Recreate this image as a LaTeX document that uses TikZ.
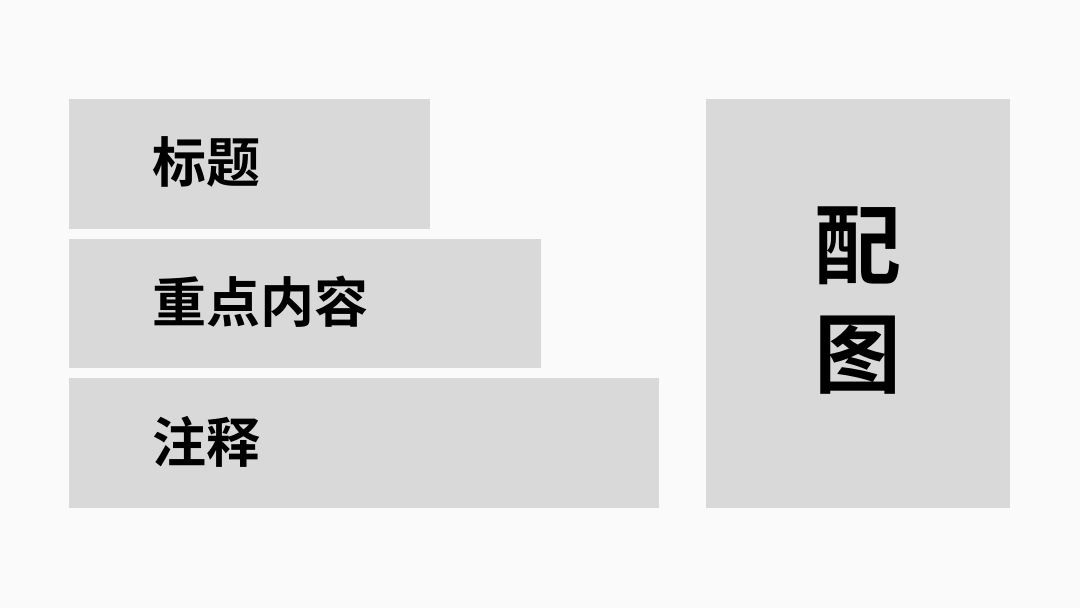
\documentclass[tikz,border=0pt]{standalone}
\usepackage{fontspec}
\newfontfamily\cjk{Noto Sans CJK SC}[BoldFont={Noto Sans CJK SC Bold}]
\definecolor{bg}{HTML}{FAFAFA}
\definecolor{boxgray}{HTML}{D9D9D9}
\begin{document}
\begin{tikzpicture}[x=1pt,y=-1pt,
  graybox/.style={fill=boxgray,draw=none},
  label/.style={anchor=west,inner sep=0pt,font=\cjk\bfseries\fontsize{54}{60}\selectfont,text=black},
  biglabel/.style={inner sep=0pt,font=\cjk\bfseries\fontsize{87}{109}\selectfont,text=black,align=center}]
\fill[bg] (0,0) rectangle (1080,608);
\useasboundingbox (0,0) rectangle (1080,608);
\fill[graybox] (69,99) rectangle (430,229);
\fill[graybox] (69,239) rectangle (541,368);
\fill[graybox] (69,378) rectangle (659,508);
\fill[graybox] (706,99) rectangle (1010,508);
\node[label] (t1) at (152,162) {标题};
\node[label] (t2) at (152,302) {重点内容};
\node[label] (t3) at (152,442) {注释};
\node[biglabel] (t4) at (858,301) {配\\图};
\end{tikzpicture}
\end{document}
